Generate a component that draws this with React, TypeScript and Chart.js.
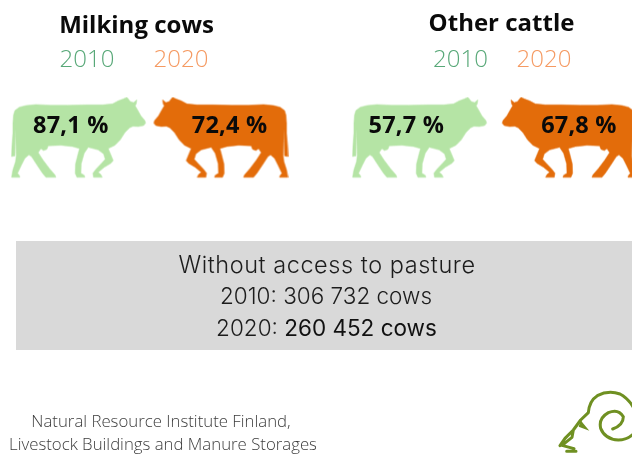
import { useEffect, useRef } from "react";
import { Chart, registerables } from "chart.js";

Chart.register(...registerables);

// Share of animals per group and year, in percent
const groups = ["Milking cows", "Other cattle"];
const years = ["2010", "2020"];
const share2010 = [87.1, 57.7];
const share2020 = [72.4, 67.8];

// Housing figures for the grey panel
const panelTitle = "Without access to pasture";
const cows2010 = "306 732 cows";
const cows2020 = "260 452 cows";
const sourceLines = ["Natural Resource Institute Finland,", "Livestock Buildings and Manure Storages"];

// Layout: the pictogram centres and their label offsets along the x scale
const WIDTH = 632;
const HEIGHT = 455;
const centres2010 = [75, 421.5];
const centres2020 = [219, 573];
const labelShift2010 = [-8, -13.5];
const labelShift2020 = [9, 10];
const rowY = 135.5;

const GREEN = "#b5e4a5";
const ORANGE = "#e36c0a";
const YEAR_GREEN = "#58a878";
const YEAR_ORANGE = "#f59a62";

// Cow silhouette facing right, traced at three units per pixel
const COW: number[][] = [
  [42, 62], [55, 52], [75, 47], [105, 44], [150, 46], [200, 46], [255, 45], [305, 45], [335, 42],
  [352, 33], [368, 27], [378, 22], [383, 28], [388, 35], [398, 38], [408, 30], [406, 42], [403, 48],
  [410, 60], [420, 78], [432, 92], [434, 100], [428, 107], [412, 110], [396, 109], [386, 114],
  [372, 128], [358, 150], [342, 166], [322, 176], [328, 190], [337, 212], [330, 220], [310, 232],
  [292, 247], [300, 254], [304, 262], [278, 262], [276, 250], [285, 238], [302, 220], [313, 208],
  [308, 192], [292, 180], [262, 172], [250, 190], [241, 222], [240, 250], [250, 256], [252, 262],
  [228, 262], [223, 250], [224, 222], [232, 190], [236, 176], [215, 170], [180, 166], [142, 168],
  [138, 178], [128, 182], [120, 176], [112, 188], [126, 210], [145, 235], [162, 255], [165, 262],
  [135, 262], [125, 250], [108, 225], [92, 200], [84, 195], [72, 205], [62, 225], [50, 250],
  [56, 258], [57, 262], [32, 262], [36, 240], [44, 215], [46, 198], [45, 150], [45, 118],
  [43, 150], [42, 198], [32, 200], [33, 170], [36, 130], [36, 100], [38, 75],
];

function cowSprite(colour: string, mirrored: boolean): HTMLCanvasElement {
  const sprite = document.createElement("canvas");
  sprite.width = 136;
  sprite.height = 82;
  const ctx = sprite.getContext("2d")!;
  if (mirrored) {
    ctx.translate(sprite.width, 0);
    ctx.scale(-1, 1);
  }
  ctx.scale(1 / 3, 1 / 3);
  ctx.translate(-30, -20);
  ctx.beginPath();
  COW.forEach(([x, y], i) => (i === 0 ? ctx.moveTo(x, y) : ctx.lineTo(x, y)));
  ctx.closePath();
  ctx.fillStyle = colour;
  ctx.strokeStyle = colour;
  ctx.lineWidth = 1.5;
  ctx.lineJoin = "round";
  ctx.fill();
  ctx.stroke();
  return sprite;
}

function put(
  ctx: CanvasRenderingContext2D,
  text: string,
  x: number,
  y: number,
  font: string,
  colour: string,
  align: CanvasTextAlign = "center",
  spacing = "0px",
) {
  ctx.font = font;
  ctx.fillStyle = colour;
  ctx.textAlign = align;
  ctx.textBaseline = "alphabetic";
  (ctx as any).letterSpacing = spacing;
  ctx.fillText(text, x, y);
  (ctx as any).letterSpacing = "0px";
}

// Grey panel behind the housing figures
const panelPlugin = {
  id: "panel",
  beforeDatasetsDraw(chart: Chart) {
    const { ctx } = chart;
    ctx.save();
    ctx.fillStyle = "#d9d9d9";
    ctx.fillRect(16, 241, WIDTH - 16, 109);
    ctx.restore();
  },
};

// Headings, years, percent labels, panel text, source and the ram logo
const textPlugin = {
  id: "texts",
  afterDatasetsDraw(chart: Chart) {
    const { ctx } = chart;
    ctx.save();

    put(ctx, groups[0], 136.5, 33, "bold 24px 'Open Sans'", "#0a0a0a");
    put(ctx, groups[1], 501.5, 31, "bold 24px 'Open Sans'", "#0a0a0a");

    const yearFont = "300 24px 'Open Sans'";
    put(ctx, years[0], 87, 67, yearFont, YEAR_GREEN);
    put(ctx, years[1], 181, 67, yearFont, YEAR_ORANGE);
    put(ctx, years[0], 460.5, 67, yearFont, YEAR_GREEN);
    put(ctx, years[1], 544, 67, yearFont, YEAR_ORANGE);

    const shifts = [labelShift2010, labelShift2020];
    chart.data.datasets.forEach((ds: any, d: number) => {
      chart.getDatasetMeta(d).data.forEach((pt: any, i: number) => {
        const text = ds.data[i].share.toFixed(1).replace(".", ",") + " %";
        put(ctx, text, pt.x + shifts[d][i], 132.5, "bold 23.5px 'Open Sans'", "#0a0a0a", "center", "0.2px");
      });
    });

    put(ctx, panelTitle, 327, 273, "300 23.5px Inter", "#1c1c1c", "center", "0.55px");
    const lineFont = "300 22.5px Inter";
    put(ctx, `${years[0]}: ${cows2010}`, 326, 304, lineFont, "#1c1c1c");
    const prefix = `${years[1]}: `;
    ctx.font = lineFont;
    const prefixWidth = ctx.measureText(prefix).width;
    const valueFont = "400 22.5px Inter";
    ctx.font = valueFont;
    const valueWidth = ctx.measureText(cows2020).width;
    const startX = 326.5 - (prefixWidth + valueWidth) / 2;
    put(ctx, prefix, startX, 336, lineFont, "#1c1c1c", "left");
    put(ctx, cows2020, startX + prefixWidth, 336, valueFont, "#111111", "left");

    const sourceFont = "300 16.8px 'Open Sans'";
    put(ctx, sourceLines[0], 161, 427, sourceFont, "#3c3c3c");
    put(ctx, sourceLines[1], 163, 450, sourceFont, "#3c3c3c");

    // Ram's head logo in the lower right corner
    ctx.translate(540, 380);
    ctx.scale(1 / 3, 1 / 3);
    ctx.strokeStyle = "#6f9022";
    ctx.fillStyle = "#6f9022";
    ctx.lineWidth = 9;
    ctx.lineCap = "round";
    ctx.lineJoin = "round";
    ctx.beginPath();
    ctx.moveTo(122, 120);
    ctx.lineTo(116, 140);
    ctx.lineTo(148, 152);
    ctx.lineTo(128, 128);
    ctx.closePath();
    ctx.fill();
    ctx.beginPath();
    ctx.moveTo(60, 197);
    ctx.lineTo(75, 175);
    ctx.lineTo(100, 150);
    ctx.lineTo(122, 120);
    ctx.lineTo(145, 98);
    ctx.quadraticCurveTo(148, 62, 172, 47);
    ctx.quadraticCurveTo(205, 30, 240, 42);
    ctx.quadraticCurveTo(265, 55, 282, 85);
    ctx.moveTo(100, 150);
    ctx.lineTo(96, 172);
    ctx.lineTo(66, 196);
    ctx.lineTo(102, 206);
    ctx.moveTo(80, 214);
    ctx.lineTo(108, 214);
    ctx.moveTo(218, 147);
    ctx.quadraticCurveTo(250, 135, 250, 110);
    ctx.quadraticCurveTo(235, 85, 205, 98);
    ctx.quadraticCurveTo(175, 115, 182, 145);
    ctx.quadraticCurveTo(195, 178, 235, 180);
    ctx.quadraticCurveTo(262, 180, 282, 160);
    ctx.stroke();

    ctx.restore();
  },
};

export default function App() {
  const canvasRef = useRef<HTMLCanvasElement>(null);

  useEffect(() => {
    const toPoints = (centres: number[], shares: number[]) =>
      shares.map((share, i) => ({ x: centres[i], y: rowY, share }));

    const chart = new Chart(canvasRef.current!, {
      type: "scatter",
      data: {
        datasets: [
          {
            label: years[0],
            data: toPoints(centres2010, share2010),
            pointStyle: cowSprite(GREEN, false),
          },
          {
            label: years[1],
            data: toPoints(centres2020, share2020),
            pointStyle: cowSprite(ORANGE, true),
          },
        ] as any,
      },
      options: {
        animation: false,
        responsive: false,
        layout: { padding: 0 },
        clip: false as any,
        plugins: { legend: { display: false }, title: { display: false }, tooltip: { enabled: false } },
        scales: {
          x: { type: "linear", min: 0, max: WIDTH, display: false },
          y: { type: "linear", min: 0, max: HEIGHT, reverse: true, display: false },
        },
      },
      plugins: [panelPlugin, textPlugin],
    });
    return () => chart.destroy();
  }, []);

  return (
    <div style={{ position: "fixed", left: 0, top: 0, width: WIDTH, height: HEIGHT, background: "#ffffff" }}>
      <canvas ref={canvasRef} width={WIDTH} height={HEIGHT} style={{ display: "block" }} />
    </div>
  );
}
